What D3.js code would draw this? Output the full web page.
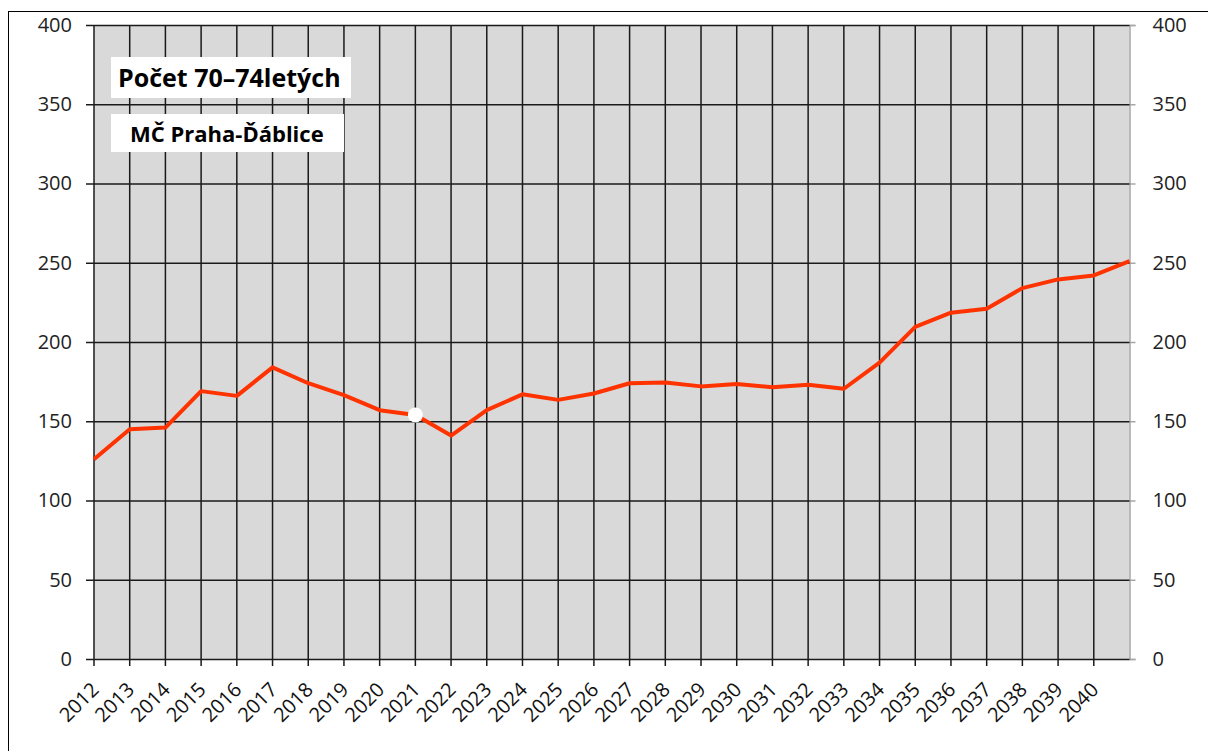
<!DOCTYPE html>
<html>
<head>
<meta charset="utf-8">
<script src="https://cdn.jsdelivr.net/npm/d3@7"></script>
<style>
  body { margin: 0; background: #fff; }
  svg { display: block; }
</style>
</head>
<body>
<svg width="1208" height="751"></svg>
<script>
const svg = d3.select('svg');

// data
const years = d3.range(2012, 2042);
const counts = [126, 145, 146, 169, 166, 184, 174, 166.5, 157, 154,
                141, 157, 167, 163.5, 167.5, 174, 174.5, 172, 173.5, 171.5,
                173, 170.5, 187, 209.5, 218.5, 221, 234, 239.5, 242, 251];
const labelYears = d3.range(2012, 2041);
const yTicks = [0, 50, 100, 150, 200, 250, 300, 350, 400];
const markYear = 2021;
const title = 'Počet 70–74letých';
const subtitle = 'MČ Praha-Ďáblice';

const data = years.map((y, i) => ({year: y, value: counts[i]}));

const margin = { top: 25, left: 94, right: 1129.5, bottom: 659 };

const xScale = d3.scaleLinear()
  .domain([2012, 2041])
  .range([margin.left, margin.right]);

const yScale = d3.scaleLinear()
  .domain([0, 400])
  .range([margin.bottom, margin.top]);

// outer frame
svg.append('rect')
  .attr('x', 8.5).attr('y', 11.5)
  .attr('width', 1220).attr('height', 760)
  .attr('fill', 'none')
  .attr('stroke', '#000')
  .attr('stroke-width', 1);

// plot background
svg.append('rect')
  .attr('x', margin.left).attr('y', margin.top)
  .attr('width', margin.right - margin.left)
  .attr('height', margin.bottom - margin.top)
  .attr('fill', '#d9d9d9');

// right axis (gray) with ticks
const yAxisRight = d3.axisRight(yScale)
  .tickValues(yTicks)
  .tickSize(6)
  .tickPadding(17)
  .tickFormat(d3.format('d'));

svg.append('g')
  .attr('transform', `translate(${margin.right},0)`)
  .call(yAxisRight)
  .call(g => g.select('.domain').attr('stroke', '#a6a6a6').attr('stroke-width', 1.5))
  .call(g => g.selectAll('.tick line').attr('stroke', '#a6a6a6').attr('stroke-width', 1.5))
  .call(g => g.selectAll('text')
    .attr('font-family', 'Open Sans, sans-serif')
    .attr('font-size', 20)
    .attr('fill', '#222'));

// vertical gridlines
svg.append('g')
  .selectAll('line')
  .data(labelYears)
  .join('line')
    .attr('x1', d => xScale(d)).attr('x2', d => xScale(d))
    .attr('y1', margin.top).attr('y2', margin.bottom + 7)
    .attr('stroke', '#1a1a1a')
    .attr('stroke-width', 1.5);

// left axis with gridlines
const yAxisLeft = d3.axisLeft(yScale)
  .tickValues(yTicks)
  .tickSize(-(margin.right - margin.left) - 8)
  .tickPadding(14)
  .tickFormat(d3.format('d'));

svg.append('g')
  .attr('transform', `translate(${margin.left - 8},0)`)
  .call(yAxisLeft)
  .call(g => g.select('.domain').remove())
  .call(g => g.selectAll('.tick line').attr('stroke', '#1a1a1a').attr('stroke-width', 1.5))
  .call(g => g.selectAll('text')
    .attr('font-family', 'Open Sans, sans-serif')
    .attr('font-size', 20)
    .attr('fill', '#222'));

// x labels
svg.append('g')
  .selectAll('text')
  .data(labelYears)
  .join('text')
    .attr('transform', d => `translate(${xScale(d) + 6},${margin.bottom + 32}) rotate(-45)`)
    .attr('text-anchor', 'end')
    .attr('font-family', 'Open Sans, sans-serif')
    .attr('font-size', 20)
    .attr('fill', '#111')
    .text(d => d);

// line
const line = d3.line()
  .x(d => xScale(d.year))
  .y(d => yScale(d.value));

svg.append('path')
  .datum(data)
  .attr('d', line)
  .attr('fill', 'none')
  .attr('stroke', '#ff3300')
  .attr('stroke-width', 4)
  .attr('stroke-linejoin', 'round');

const mark = data.find(d => d.year === markYear);
svg.append('circle')
  .attr('cx', xScale(mark.year))
  .attr('cy', yScale(mark.value))
  .attr('r', 7.5)
  .attr('fill', '#fff');

// title boxes
svg.append('rect')
  .attr('x', 111).attr('y', 57)
  .attr('width', 240).attr('height', 41)
  .attr('fill', '#fff');
svg.append('text')
  .attr('x', 118).attr('y', 87)
  .attr('font-family', 'Open Sans, sans-serif')
  .attr('font-weight', 'bold')
  .attr('font-size', 25)
  .attr('fill', '#000')
  .text(title);

svg.append('rect')
  .attr('x', 111).attr('y', 114)
  .attr('width', 233).attr('height', 38)
  .attr('fill', '#fff');
svg.append('text')
  .attr('x', 130).attr('y', 142)
  .attr('font-family', 'Open Sans, sans-serif')
  .attr('font-weight', 'bold')
  .attr('font-size', 22)
  .attr('fill', '#000')
  .text(subtitle);
</script>
</body>
</html>
